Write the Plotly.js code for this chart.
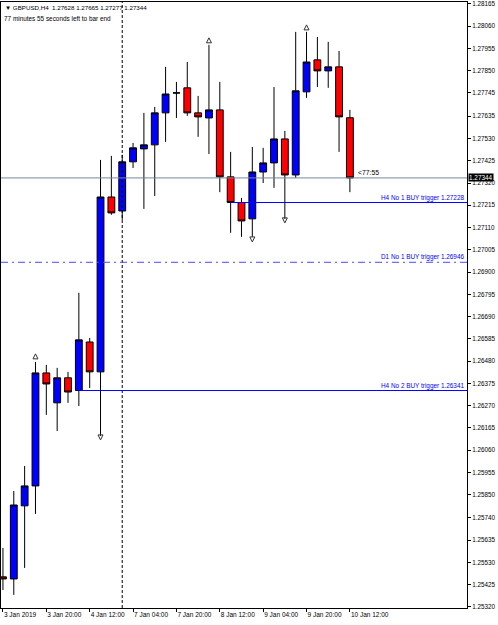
<!DOCTYPE html>
<html>
<head>
<meta charset="utf-8">
<script src="https://cdn.plot.ly/plotly-3.0.1.min.js"></script>
<style>
html,body{margin:0;padding:0;background:#fff;}
#chart{width:498px;height:625px;}
</style>
</head>
<body>
<div id="chart"></div>
<script>
// H4 bar times (category labels)
const times = [
  "3 Jan 04:00","3 Jan 08:00","3 Jan 12:00","3 Jan 16:00","3 Jan 20:00",
  "4 Jan 00:00","4 Jan 04:00","4 Jan 08:00","4 Jan 12:00","4 Jan 16:00","4 Jan 20:00",
  "7 Jan 00:00","7 Jan 04:00","7 Jan 08:00","7 Jan 12:00","7 Jan 16:00","7 Jan 20:00",
  "8 Jan 00:00","8 Jan 04:00","8 Jan 08:00","8 Jan 12:00","8 Jan 16:00","8 Jan 20:00",
  "9 Jan 00:00","9 Jan 04:00","9 Jan 08:00","9 Jan 12:00","9 Jan 16:00","9 Jan 20:00",
  "10 Jan 00:00","10 Jan 04:00","10 Jan 08:00","10 Jan 12:00"
];
const open  = [1.25462,1.25452,1.25797,1.25891,1.26424,1.26283,1.26401,1.26341,1.26570,1.26429,1.27254,
               1.27188,1.27420,1.27481,1.27500,1.27651,1.27745,1.27769,1.27651,1.27627,1.27665,1.27349,
               1.27228,1.27151,1.27372,1.27415,1.27528,1.27358,1.27750,1.27901,1.27849,1.27868,1.27628];
const high  = [1.25598,1.25867,1.25985,1.26476,1.26462,1.26448,1.26429,1.26802,1.26589,1.27429,1.27448,
               1.27453,1.27509,1.27651,1.27679,1.27868,1.27797,1.27891,1.27731,1.27972,1.27797,1.27467,
               1.27250,1.27490,1.27486,1.27773,1.27566,1.28033,1.28033,1.28009,1.27986,1.27943,1.27665];
const low   = [1.25400,1.25377,1.25504,1.25759,1.26226,1.26150,1.26283,1.26268,1.26353,1.26127,1.27170,
               1.27146,1.27391,1.27198,1.27259,1.27514,1.27627,1.27637,1.27538,1.27457,1.27277,1.27085,
               1.27066,1.27066,1.27320,1.27297,1.27151,1.27344,1.27722,1.27773,1.27769,1.27467,1.27277];
const close = [1.25452,1.25801,1.25891,1.26424,1.26372,1.26401,1.26334,1.26580,1.26429,1.27254,1.27179,
               1.27420,1.27486,1.27500,1.27651,1.27740,1.27745,1.27651,1.27632,1.27665,1.27349,1.27228,
               1.27141,1.27372,1.27415,1.27528,1.27358,1.27755,1.27891,1.27849,1.27868,1.27632,1.27344];

// fractals
const fracUpIdx = [3,19,28];
const fracUpPrice = [1.26514,1.28005,1.28066];
const fracDnIdx = [9,23,26];
const fracDnPrice = [1.26108,1.27042,1.27132];

// levels
const currentPrice = 1.27344;
const h4No1 = 1.27228, h4No1Start = 21;
const d1No1 = 1.26946;
const h4No2 = 1.26341, h4No2Start = 7;
const separatorIdx = 11;

// axis ticks
const xTickIdx = [0,4,8,12,16,20,24,28,32];
const xTickText = ["3 Jan 2019","3 Jan 20:00","4 Jan 12:00","7 Jan 04:00","7 Jan 20:00","8 Jan 12:00","9 Jan 04:00","9 Jan 20:00","10 Jan 12:00"];
const yTickVals = [1.28165,1.28060,1.27955,1.27850,1.27745,1.27635,1.27530,1.27425,1.27320,1.27215,1.27110,1.27005,1.26900,1.26795,1.26690,1.26585,1.26480,1.26375,1.26270,1.26165,1.26060,1.25955,1.25850,1.25740,1.25635,1.25530,1.25425,1.25320];
const yTickText = yTickVals.map(v => v.toFixed(5));

const FONT = "'Liberation Sans', Arial, sans-serif";

const traces = [
  {
    type: 'candlestick', x: times, open: open, high: high, low: low, close: close,
    increasing: {fillcolor: '#0000ff', line: {color: '#000000', width: 1}},
    decreasing: {fillcolor: '#ff0000', line: {color: '#000000', width: 1}},
    whiskerwidth: 0, hoverinfo: 'skip', showlegend: false
  },
  {
    type: 'scatter', mode: 'markers', x: fracUpIdx.map(i => times[i]), y: fracUpPrice,
    marker: {symbol: 'arrow-up-open', size: 5, color: '#333333', line: {width: 1, color: '#333333'}},
    hoverinfo: 'skip', showlegend: false
  },
  {
    type: 'scatter', mode: 'markers', x: fracDnIdx.map(i => times[i]), y: fracDnPrice,
    marker: {symbol: 'arrow-down-open', size: 5, color: '#333333', line: {width: 1, color: '#333333'}},
    hoverinfo: 'skip', showlegend: false
  }
];

const xRight = 42.8;
const shapes = [
  {type: 'line', xref: 'x', yref: 'paper', x0: separatorIdx, x1: separatorIdx, y0: 0, y1: 1,
   line: {color: '#000000', width: 1, dash: '3px,2px'}, layer: 'above'},
  {type: 'line', xref: 'paper', yref: 'y', x0: 0, x1: 1, y0: currentPrice, y1: currentPrice,
   line: {color: '#778899', width: 1}, layer: 'above'},
  {type: 'line', xref: 'x', yref: 'y', x0: h4No1Start, x1: xRight, y0: h4No1, y1: h4No1,
   line: {color: '#0000ff', width: 1}, layer: 'above'},
  {type: 'line', xref: 'paper', yref: 'y', x0: 0, x1: 1, y0: d1No1, y1: d1No1,
   line: {color: '#4a4aff', width: 1, dash: '7px,4px,2px,4px'}, layer: 'above'},
  {type: 'line', xref: 'x', yref: 'y', x0: h4No2Start, x1: xRight, y0: h4No2, y1: h4No2,
   line: {color: '#0000ff', width: 1}, layer: 'above'}
];

const annFont = {family: FONT, size: 6.4, color: '#0000ff'};
const annotations = [
  {xref: 'paper', yref: 'paper', x: 0.004, y: 1, xanchor: 'left', yanchor: 'top', yshift: 0,
   text: '\u25BC GBPUSD,H4  1.27628 1.27665 1.27277 1.27344', showarrow: false,
   font: {family: FONT, size: 6.2, color: '#000'}},
  {xref: 'paper', yref: 'paper', x: 0.002, y: 1, xanchor: 'left', yanchor: 'top', yshift: -11,
   text: '77 minutes 55 seconds left to bar end', showarrow: false,
   font: {family: FONT, size: 6.4, color: '#000'}},
  {xref: 'paper', yref: 'y', x: 1, y: h4No1, xanchor: 'right', yanchor: 'bottom', xshift: -1, yshift: -1,
   text: 'H4 No 1 BUY trigger ' + h4No1.toFixed(5), showarrow: false, font: annFont},
  {xref: 'paper', yref: 'y', x: 1, y: d1No1, xanchor: 'right', yanchor: 'bottom', xshift: -1, yshift: -1,
   text: 'D1 No 1 BUY trigger ' + d1No1.toFixed(5), showarrow: false, font: annFont},
  {xref: 'paper', yref: 'y', x: 1, y: h4No2, xanchor: 'right', yanchor: 'bottom', xshift: -1, yshift: -1,
   text: 'H4 No 2 BUY trigger ' + h4No2.toFixed(5), showarrow: false, font: annFont},
  {xref: 'x', yref: 'y', x: times.length - 1, y: currentPrice, xanchor: 'left', yanchor: 'bottom', xshift: 6, yshift: 0,
   text: '<77:55', showarrow: false, font: {family: FONT, size: 6.8, color: '#000'}},
  {xref: 'paper', yref: 'y', x: 1, y: currentPrice, xanchor: 'left', yanchor: 'middle', xshift: 1,
   text: currentPrice.toFixed(5), showarrow: false, bgcolor: '#000000', borderpad: 0,
   font: {family: FONT, size: 6.4, color: '#ffffff'}}
];

const layout = {
  width: 498, height: 625,
  margin: {l: 1, r: 31, t: 2, b: 17, pad: 0},
  paper_bgcolor: '#ffffff', plot_bgcolor: '#ffffff',
  showlegend: false,
  boxgap: 0.1, boxgroupgap: 0.3,
  xaxis: {
    type: 'category', range: [-0.18, xRight],
    rangeslider: {visible: false},
    showgrid: false, zeroline: false,
    showline: true, mirror: true, linecolor: '#000', linewidth: 1,
    tickmode: 'array', tickvals: xTickIdx.map(i => times[i]), ticktext: xTickText,
    ticks: 'outside', ticklen: 3, tickcolor: '#000',
    tickangle: 0, automargin: false,
    ticklabelposition: 'outside right', ticklabeloverflow: 'allow',
    tickfont: {family: FONT, size: 6.5, color: '#000'},
    fixedrange: true
  },
  yaxis: {
    side: 'right', range: [1.25315, 1.28174],
    showgrid: false, zeroline: false,
    showline: true, mirror: true, linecolor: '#000', linewidth: 1,
    tickmode: 'array', tickvals: yTickVals, ticktext: yTickText,
    ticks: 'outside', ticklen: 3, tickcolor: '#000',
    tickfont: {family: FONT, size: 6.3, color: '#000'},
    fixedrange: true
  },
  shapes: shapes,
  annotations: annotations
};

Plotly.newPlot('chart', traces, layout, {displayModeBar: false, staticPlot: true});
</script>
</body>
</html>
